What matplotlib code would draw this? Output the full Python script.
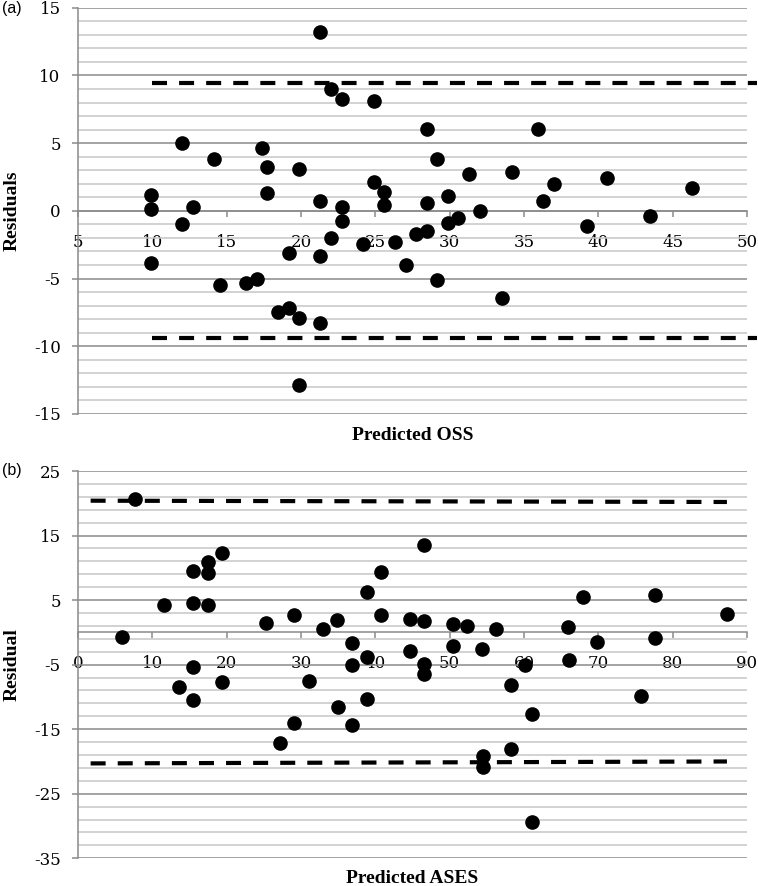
import matplotlib
matplotlib.use('Agg')
import matplotlib.pyplot as plt
from matplotlib.ticker import MultipleLocator

plt.rcParams['axes.unicode_minus'] = False

# (a) predicted OSS vs residuals
oss_pred = [9.91, 9.91, 9.91, 12.02, 12.02, 12.76, 14.17, 14.53, 16.31, 17.05,
            17.40, 17.74, 17.74, 18.46, 19.18, 19.18, 19.89, 19.89, 19.89, 21.29,
            21.29, 21.29, 21.29, 22.03, 22.03, 22.74, 22.74, 22.74, 24.19, 24.92,
            24.92, 25.61, 25.61, 26.33, 27.04, 27.75, 28.46, 28.46, 28.46, 29.18,
            29.18, 29.88, 29.88, 30.59, 31.33, 32.05, 33.49, 34.18, 35.97, 36.31,
            37.05, 39.23, 40.60, 43.45, 46.32]
oss_resid = [1.17, 0.11, -3.88, 4.98, -1.00, 0.26, 3.85, -5.50, -5.31, -5.04,
             4.66, 3.26, 1.29, -7.47, -3.14, -7.18, 3.09, -7.89, -12.87, 13.20,
             0.70, -3.31, -8.31, 8.97, -2.03, 8.26, 0.26, -0.75, -2.43, 8.13,
             2.13, 1.39, 0.43, -2.30, -4.03, -1.71, 6.07, 0.58, -1.47, 3.85,
             -5.14, 1.12, -0.90, -0.55, 2.70, -0.01, -6.44, 2.84, 6.07, 0.70,
             2.00, -1.15, 2.40, -0.40, 1.68]
oss_loa_x = [10, 50.7]
oss_upper = [9.45, 9.45]
oss_lower = [-9.4, -9.4]

# (b) predicted ASES vs residuals
ases_pred = [5.88, 7.67, 11.61, 13.59, 15.51, 15.51, 15.51, 15.51, 17.45, 17.45,
             17.45, 19.42, 19.42, 25.25, 27.22, 29.06, 29.10, 31.12, 32.92, 34.89,
             34.94, 36.91, 36.91, 36.91, 38.84, 38.84, 38.84, 40.76, 40.76, 44.67,
             44.67, 46.59, 46.59, 46.59, 46.59, 50.49, 50.49, 52.38, 54.31, 54.44,
             54.44, 56.24, 58.25, 58.25, 60.14, 61.12, 61.12, 65.97, 66.10, 67.90,
             69.82, 75.70, 77.63, 77.63, 87.31]
ases_resid = [-0.66, 20.6, 4.29, -8.51, 4.60, 9.56, -5.41, -10.48, 10.96, 9.25,
              4.29, 12.35, -7.63, 1.51, -17.10, 2.70, -13.99, -7.53, 0.48, 1.91,
              -11.51, -1.70, -5.05, -14.30, 6.30, -3.76, -10.37, 9.35, 2.70, 2.07,
              -2.90, 13.49, 1.81, -4.90, -6.45, 1.30, -2.06, 1.04, -2.62, -19.15,
              -20.90, 0.48, -8.10, -18.12, -5.05, -12.69, -29.38, 0.79, -4.28, 5.53,
              -1.44, -9.81, 5.79, -0.87, 2.80]
ases_loa_x = [1.7, 87.3]
ases_upper = [20.4, 20.2]
ases_lower = [-20.3, -20.0]

W, H = 758, 886
fig = plt.figure(figsize=(W / 100, H / 100), dpi=100)

TICK_FONT = dict(family='DejaVu Serif', size=12)
LABEL_FONT = dict(family='Liberation Serif', size=14, weight='bold')
MAJOR = '#8a8a8a'
MINOR = '#c6c6c6'


def panel(rect, pred, resid, loa_x, upper, lower, xlim, ylim, xstep, ystep, yoff,
          ystep_minor, yoff_minor, xlabel, ylabel, tag, tag_y):
    ax = fig.add_axes(rect)
    ax.set_xlim(xlim)
    ax.set_ylim(ylim)
    ax.xaxis.set_major_locator(MultipleLocator(xstep))
    ax.yaxis.set_major_locator(MultipleLocator(ystep, offset=yoff))
    ax.yaxis.set_minor_locator(MultipleLocator(ystep_minor, offset=yoff_minor))
    ax.grid(axis='y', which='major', color=MAJOR, lw=1.1)
    ax.grid(axis='y', which='minor', color=MINOR, lw=1.1)
    ax.set_axisbelow(True)
    ax.spines['top'].set_visible(False)
    ax.spines['right'].set_visible(False)
    ax.spines['bottom'].set_position(('data', 0))
    for s in ['bottom', 'left']:
        ax.spines[s].set_color(MAJOR)
        ax.spines[s].set_linewidth(1.1)
    ax.tick_params(axis='y', which='major', length=4.5, width=1.1, color=MAJOR, pad=8)
    ax.tick_params(axis='y', which='minor', length=0)
    ax.tick_params(axis='x', which='major', length=4.5, width=1.1, color=MAJOR,
                   direction='out', pad=12)
    for lab in ax.get_xticklabels() + ax.get_yticklabels():
        lab.set_fontfamily(TICK_FONT['family'])
        lab.set_fontsize(TICK_FONT['size'])

    ax.plot(loa_x, upper, color='black', lw=3, dashes=(3.6, 2.9), dash_capstyle='butt',
            clip_on=False, zorder=3)
    ax.plot(loa_x, lower, color='black', lw=3, dashes=(3.6, 2.9), dash_capstyle='butt',
            clip_on=False, zorder=3)
    ax.plot(pred, resid, 'o', color='black', ms=9.5, ls='none', zorder=4, clip_on=False)

    ax.text(0.5, -0.052, xlabel, transform=ax.transAxes, ha='center', va='center', **LABEL_FONT)
    ax.text(-0.099, 0.5, ylabel, transform=ax.transAxes, ha='center', va='center',
            rotation=90, **LABEL_FONT)
    fig.text(2 / W, tag_y, tag, ha='left', va='center', family='Liberation Sans', size=11.5)
    return ax


left = 78 / W
width = (747 - 78) / W
panel([left, 1 - 414 / H, width, (414 - 7.7) / H], oss_pred, oss_resid, oss_loa_x,
      oss_upper, oss_lower, (5, 50), (-15, 15), 5, 5, 0, 1, 0,
      'Predicted OSS', 'Residuals', '(a)', 1 - 8 / H)
panel([left, 1 - 858.3 / H, width, (858.3 - 471) / H], ases_pred, ases_resid, ases_loa_x,
      ases_upper, ases_lower, (0, 90), (-35, 25), 10, 10, 5, 2, 1,
      'Predicted ASES', 'Residual', '(b)', 1 - 470 / H)

fig.savefig('out.png', dpi=100)
